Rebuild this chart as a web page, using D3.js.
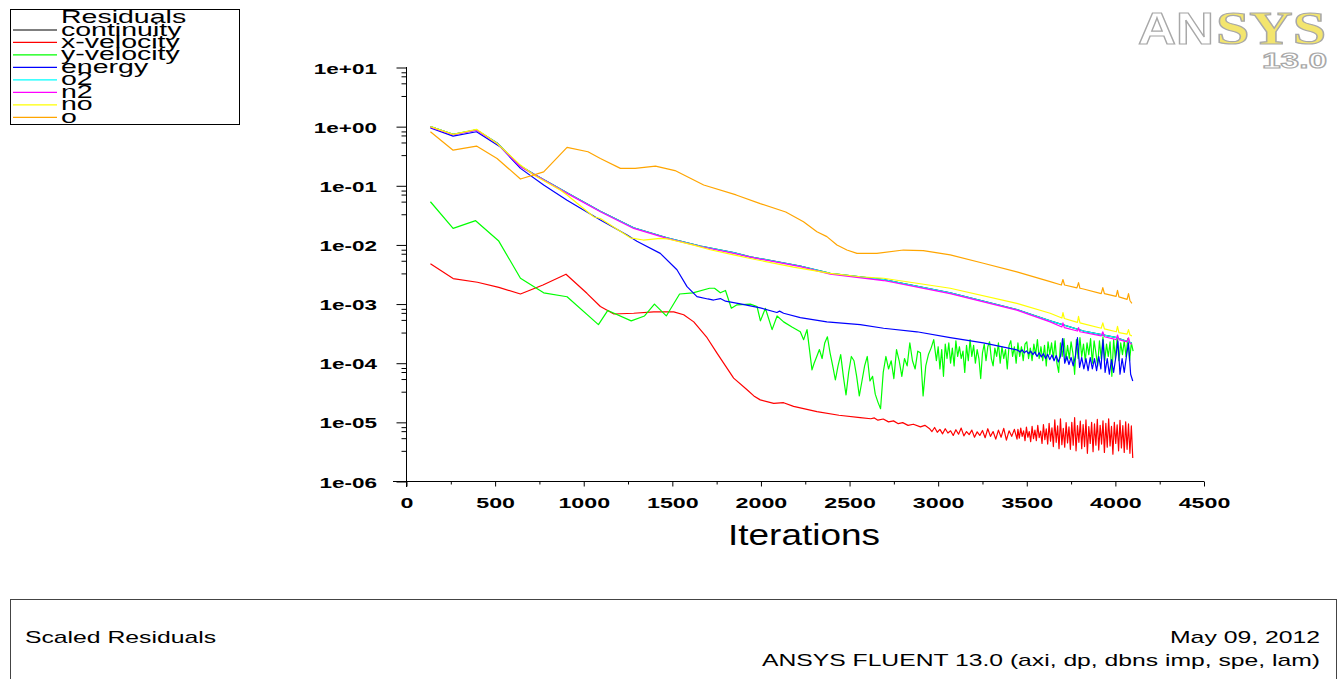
<!DOCTYPE html>
<html><head><meta charset="utf-8">
<script src="https://cdn.jsdelivr.net/npm/d3@7"></script>
<style>body{margin:0;background:#fff;} svg{display:block;}</style>
</head><body>
<svg id="chart" width="1338" height="679"></svg>
<script>
// ---------------- DATA ----------------
const seriesNames  = ["continuity","x-velocity","y-velocity","energy","o2","n2","no","o"];
const seriesColors = ["#000000","#ff0000","#00ff00","#0000ff","#00ffff","#ff00ff","#ffff00","#ffa500"];
const xTickValues  = [0,500,1000,1500,2000,2500,3000,3500,4000,4500];
const xTickLabels  = ["0","500","1000","1500","2000","2500","3000","3500","4000","4500"];
const yTickValues  = [1e1,1e0,1e-1,1e-2,1e-3,1e-4,1e-5,1e-6];
const yTickLabels  = ["1e+01","1e+00","1e-01","1e-02","1e-03","1e-04","1e-05","1e-06"];
const legendTitle  = "Residuals";
const xAxisTitle   = "Iterations";
const footerLeft   = "Scaled Residuals";
const footerDate   = "May 09, 2012";
const footerInfo   = "ANSYS FLUENT 13.0 (axi, dp, dbns imp, spe, lam)";

// [iteration, residual]
const continuityRes = [[135,1.0],[263,0.74],[395,0.88],[511,0.53],[643,0.215],[718,0.158],[906,0.076],[1094,0.037],[1282,0.0195],[1470,0.0132],[1658,0.0096],[1846,0.0074],[1940,0.0063],[2222,0.0044],[2391,0.0033],[2692,0.0026],[3068,0.00155],[3444,0.00081],[3632,0.00052],[3820,0.00035],[4008,0.00027],[4093,0.00022]];
const o2Res = [[135,1.0],[263,0.74],[395,0.88],[511,0.53],[643,0.215],[718,0.158],[906,0.076],[1094,0.037],[1282,0.0195],[1470,0.0132],[1658,0.0096],[1846,0.0074],[1940,0.0063],[2222,0.0044],[2391,0.0033],[2692,0.0026],[3068,0.00155],[3444,0.00081],[3632,0.00052],[3820,0.00035],[4008,0.00027],[4093,0.00022]];
const n2Res = [[135,0.98],[263,0.73],[395,0.87],[511,0.52],[643,0.21],[718,0.156],[906,0.0744],[1094,0.0363],[1282,0.019],[1470,0.0129],[1658,0.0094],[1846,0.0072],[1940,0.0062],[2222,0.0043],[2391,0.0032],[2692,0.0025],[3068,0.0015],[3444,0.00079],[3632,0.0005],[3698,0.00041],[3704,0.00048],[3712,0.0004],[3786,0.00035],[3792,0.0004],[3800,0.00034],[3920,0.00029],[3929,0.00034],[3938,0.00028],[4005,0.00025],[4012,0.0003],[4020,0.00025],[4066,0.00023],[4074,0.00027],[4082,0.00022],[4093,0.00021]];
const noRes = [[135,1.0],[263,0.74],[395,0.9],[511,0.52],[643,0.224],[718,0.152],[868,0.085],[906,0.0697],[1056,0.030],[1094,0.028],[1263,0.0132],[1336,0.0121],[1432,0.0129],[1470,0.0127],[1620,0.0099],[1714,0.0083],[1846,0.0068],[1940,0.0059],[2184,0.0042],[2391,0.0033],[2560,0.0029],[2692,0.00273],[3068,0.00185],[3444,0.00103],[3632,0.0007],[3698,0.00058],[3704,0.00072],[3712,0.00057],[3786,0.00049],[3792,0.00062],[3800,0.00048],[3920,0.00039],[3929,0.00048],[3938,0.00038],[4005,0.00034],[4012,0.00042],[4020,0.00033],[4066,0.00031],[4074,0.00037],[4082,0.0003],[4093,0.00029]];
const oRes = [[135,0.82],[263,0.40],[395,0.47],[511,0.29],[643,0.13],[774,0.172],[906,0.445],[1024,0.376],[1094,0.29],[1207,0.197],[1290,0.197],[1405,0.215],[1515,0.181],[1677,0.103],[1860,0.07],[1996,0.050],[2140,0.036],[2240,0.0247],[2316,0.0167],[2372,0.0138],[2429,0.010],[2485,0.0082],[2542,0.0072],[2654,0.0072],[2804,0.0082],[2916,0.0080],[3068,0.0068],[3255,0.0049],[3444,0.0035],[3632,0.0024],[3695,0.0021],[3704,0.0026],[3713,0.0021],[3783,0.00188],[3792,0.0023],[3800,0.00185],[3820,0.0018],[3920,0.0015],[3929,0.0019],[3938,0.0015],[4004,0.00135],[4012,0.0017],[4020,0.00132],[4066,0.0012],[4074,0.0015],[4082,0.00115],[4093,0.00103]];
const energyRes = [[135,0.955],[263,0.69],[395,0.82],[530,0.455],[643,0.197],[774,0.103],[906,0.057],[1094,0.0264],[1245,0.0147],[1300,0.0115],[1432,0.0072],[1526,0.0038],[1583,0.00197],[1639,0.00134],[1700,0.00122],[1733,0.00117],[1771,0.00124],[1800,0.00112],[1884,0.00101],[1996,0.00086],[2090,0.00072],[2105,0.00076],[2128,0.0007],[2222,0.00059],[2372,0.0005],[2560,0.00045],[2692,0.00039],[2880,0.00034],[3068,0.00027],[3255,0.00022],[3444,0.000168]];
const energyTailStart = 3450, energyTailStep = 12;
const energyTail = [
 1.65e-4,1.55e-4,1.68e-4,1.5e-4,1.62e-4,1.45e-4,1.6e-4,1.4e-4,1.55e-4,1.3e-4,
 1.5e-4,1.28e-4,1.45e-4,1.2e-4,1.42e-4,1.15e-4,1.38e-4,1.1e-4,1.35e-4,1.05e-4,
 1.3e-4,2.6e-4,1.0e-4,1.3e-4,9.5e-5,1.25e-4,9e-5,1.3e-4,2.7e-4,8.5e-5,
 1.25e-4,8e-5,1.2e-4,7.5e-5,1.25e-4,8e-5,1.2e-4,7.5e-5,1.3e-4,8e-5,
 2.5e-4,7e-5,1.2e-4,6.5e-5,1.15e-4,7e-5,1.25e-4,2.4e-4,6.5e-5,1.2e-4,
 7e-5,1.3e-4,2.2e-4,6.5e-5,5e-5];
const yVelocityRes = [[135,0.0537],[263,0.019],[390,0.0257],[519,0.0118],[643,0.00274],[774,0.00155],[906,0.00133],[1083,0.00045],[1136,0.00078],[1268,0.00052],[1343,0.00063],[1399,0.001],[1466,0.00063],[1541,0.00148],[1616,0.00155],[1710,0.00185],[1738,0.00185],[1771,0.00155],[1800,0.0017],[1833,0.00085],[1865,0.00097],[1940,0.001],[1978,0.00091],[1997,0.00052],[2025,0.00085],[2063,0.00037],[2091,0.00063],[2128,0.0005],[2175,0.00041],[2222,0.00034],[2241,0.00025],[2260,0.00037],[2288,0.000077]];
const yVelocityTailStart = 2300, yVelocityTailStep = 15;
const yVelocityTail = [
 1.0e-4,1.3e-4,1.7e-4,1.2e-4,2.2e-4,2.8e-4,1.5e-4,9e-5,5.2e-5,9e-5,
 1.4e-4,6e-5,2.9e-5,7e-5,1.3e-4,1.1e-4,6e-5,2.8e-5,5e-5,9e-5,
 1.3e-4,5e-5,6e-5,3e-5,2.2e-5,1.7e-5,7e-5,1.3e-4,8e-5,1.1e-4,
 5.5e-5,1.7e-4,1.1e-4,6e-5,1.2e-4,9e-5,2.2e-4,1.1e-4,8e-5,1.6e-4,
 1.5e-4,2.8e-5,9e-5,1.4e-4,1.8e-4,2.5e-4];
const yVelocityDenseStart = 2990, yVelocityDenseStep = 10;
const yVelocityDense = [
 1.1e-4,1.9e-4,8e-5,1.7e-4,6e-5,2.1e-4,1.2e-4,2.2e-4,1.0e-4,1.8e-4,
 9e-5,2.4e-4,1.3e-4,1.9e-4,1.2e-4,1.6e-4,7e-5,2.0e-4,1.1e-4,2.5e-4,
 1.3e-4,2.0e-4,1.0e-4,1.7e-4,1.2e-4,5.5e-5,1.5e-4,2.1e-4,1.1e-4,1.9e-4,
 2.3e-4,1.2e-4,9e-5,1.8e-4,1.3e-4,2.2e-4,1.0e-4,1.9e-4,1.2e-4,1.7e-4,
 8e-5,2.0e-4,2.4e-4,1.3e-4,1.9e-4,1.0e-4,2.2e-4,1.3e-4,1.9e-4,1.1e-4,
 2.1e-4,2.3e-4,1.2e-4,1.8e-4,1.1e-4,2.1e-4,1.4e-4,2.5e-4,1.2e-4,1.9e-4,
 1.1e-4,2.0e-4,9e-5,2.3e-4,1.4e-4,2.2e-4,1.2e-4,2.4e-4,1.0e-4,7e-5,
 2.2e-4,1.3e-4,2.6e-4,1.1e-4,2.0e-4,1.2e-4,2.3e-4,1.5e-4,6.5e-5,2.5e-4,
 1.2e-4,2.7e-4,1.3e-4,2.1e-4,1.1e-4,2.2e-4,1.4e-4,2.6e-4,1.0e-4,2.4e-4,
 1.5e-4,9e-5,2.4e-4,1.2e-4,2.8e-4,1.1e-4,2.1e-4,1.3e-4,2.3e-4,6e-5,
 2.5e-4,1.2e-4,2.7e-4,1.1e-4,2.2e-4,1.4e-4,2.4e-4,1.3e-4,2.6e-4,1.1e-4,
 2.2e-4,1.6e-4];
const xVelocityRes = [[135,0.0048],[263,0.0027],[400,0.00234],[521,0.00192],[643,0.00148],[770,0.0021],[900,0.0032],[1018,0.00152],[1094,0.00091],[1170,0.00068],[1282,0.0007],[1395,0.00074],[1508,0.00074],[1564,0.00066],[1621,0.0005],[1696,0.00027],[1752,0.000148],[1846,0.000056],[1920,0.000036],[1960,0.000028],[1996,0.000024],[2072,0.000021],[2128,0.0000215],[2184,0.0000186],[2316,0.0000152],[2440,0.0000132],[2560,0.000012],[2620,0.0000115],[2640,0.0000119],[2660,0.0000109],[2690,0.0000114],[2720,0.0000102],[2748,0.0000106],[2775,0.0000095],[2800,0.0000099],[2830,0.0000089],[2860,0.0000093],[2900,0.0000084],[2925,0.0000089]];
const xVelocityTailStart = 2950, xVelocityTailStep = 15;
const xVelocityTail = [
 7.9e-6,7.0e-6,8.2e-6,6.8e-6,7.6e-6,6.4e-6,7.8e-6,6.6e-6,7.2e-6,6.0e-6,
 7.5e-6,6.3e-6,8.0e-6,5.9e-6,7.0e-6,6.2e-6,7.4e-6,5.6e-6,6.9e-6,6.0e-6,
 7.3e-6,5.5e-6,7.8e-6,5.8e-6,7.0e-6,5.2e-6,7.4e-6,5.6e-6,7.9e-6,5.0e-6,
 7.2e-6,5.8e-6,7.6e-6,5.2e-6];
const xVelocityDenseStart = 3450, xVelocityDenseStep = 8;
const xVelocityDense = [
 7.6e-6,5.4e-6,8.0e-6,5.8e-6,7.2e-6,4.9e-6,8.3e-6,5.6e-6,7.0e-6,4.7e-6,8.6e-6,5.3e-6,7.4e-6,4.9e-6,8.9e-6,5.5e-6,7.1e-6,4.4e-6,9.2e-6,
 5.1e-6,7.8e-6,4.3e-6,9.6e-6,4.8e-6,8.1e-6,3.9e-6,1.1e-5,4.6e-6,8.7e-6,3.6e-6,1.15e-5,4.2e-6,7.9e-6,3.8e-6,9.9e-6,4.5e-6,8.4e-6,3.5e-6,
 1.0e-5,4.1e-6,1.2e-5,3.3e-6,8.8e-6,4.6e-6,1.05e-5,3.6e-6,9.2e-6,3.9e-6,1.1e-5,3.0e-6,8.5e-6,4.4e-6,1.0e-5,3.2e-6,9.4e-6,4.1e-6,1.12e-5,
 3.4e-6,8.9e-6,4.3e-6,1.06e-5,3.1e-6,9.6e-6,3.8e-6,1.15e-5,4.0e-6,8.6e-6,2.9e-6,1.0e-5,4.4e-6,9.1e-6,3.3e-6,1.08e-5,3.7e-6,8.8e-6,3.1e-6,
 1.02e-5,3.5e-6,9.4e-6,3.0e-6,8.7e-6,2.5e-6];

// --------------- BUILD ----------------
function addRun(points, start, step, values) {
  values.forEach((v, i) => points.push([start + i * step, v]));
  return points;
}
const xVelocityAll = addRun(addRun(xVelocityRes.slice(), xVelocityTailStart, xVelocityTailStep, xVelocityTail), xVelocityDenseStart, xVelocityDenseStep, xVelocityDense);
const yVelocityAll = addRun(addRun(yVelocityRes.slice(), yVelocityTailStart, yVelocityTailStep, yVelocityTail), yVelocityDenseStart, yVelocityDenseStep, yVelocityDense);
const energyAll = addRun(energyRes.slice(), energyTailStart, energyTailStep, energyTail);
const seriesData = [continuityRes, xVelocityAll, yVelocityAll, energyAll, o2Res, n2Res, noRes, oRes];

const svg = d3.select("#chart");
const FONT = "'Liberation Sans', Arial, sans-serif";
const x = d3.scaleLinear().domain([0, 4500]).range([406.5, 1204]);
const y = d3.scaleLog().domain([1e-6, 1e1]).range([481.5, 67.5]);

// ---- y axis ----
const yMinor = [];
yTickValues.slice(0, -1).forEach(v => [0.83, 0.71, 0.54, 0.33].forEach(m => yMinor.push(v * m)));
const gyMinor = svg.append("g").attr("transform", "translate(406.5,0)")
  .call(d3.axisLeft(y).tickValues(yMinor).tickSize(5).tickFormat(""));
gyMinor.select(".domain").remove();
const gy = svg.append("g").attr("transform", "translate(406.5,0)")
  .call(d3.axisLeft(y).tickValues(yTickValues).tickSize(10).tickFormat((d, i) => yTickLabels[i]));
gy.select(".domain").remove();
gy.selectAll("text").attr("x", null).attr("dy", null)
  .attr("text-anchor", "end").attr("transform", "translate(-29.5,5.5) scale(1.5,1)")
  .style("font-family", FONT).style("font-weight", "bold").style("font-size", "15px").attr("fill", "#000");
svg.append("line").attr("x1", 406.5).attr("x2", 406.5).attr("y1", 67).attr("y2", 487).attr("stroke", "#000");

// ---- x axis ----
const xMinor = xTickValues.slice(0, -1).map(v => v + 250);
const gxMinor = svg.append("g").attr("transform", "translate(0,481.5)")
  .call(d3.axisBottom(x).tickValues(xMinor).tickSize(3).tickFormat(""));
gxMinor.select(".domain").remove();
const gx = svg.append("g").attr("transform", "translate(0,481.5)")
  .call(d3.axisBottom(x).tickValues(xTickValues).tickSize(5).tickFormat((d, i) => xTickLabels[i]));
gx.select(".domain").remove();
gx.selectAll("text").attr("y", null).attr("dy", null)
  .attr("text-anchor", "middle").attr("transform", "translate(0,26.5) scale(1.55,1)")
  .style("font-family", FONT).style("font-weight", "bold").style("font-size", "15px").attr("fill", "#000");
svg.append("line").attr("x1", 393).attr("x2", 1204).attr("y1", 481.5).attr("y2", 481.5).attr("stroke", "#000");

svg.append("text").attr("x", 728).attr("y", 545).attr("textLength", 152).attr("lengthAdjust", "spacingAndGlyphs")
  .style("font-family", FONT).style("font-size", "29px").text(xAxisTitle);

// ---- series ----
const line = d3.line().x(d => x(d[0])).y(d => y(d[1]));
seriesData.forEach((pts, i) => {
  svg.append("path").attr("d", line(pts)).attr("fill", "none")
    .attr("stroke", seriesColors[i]).attr("stroke-width", 1.2).attr("stroke-linejoin", "round");
});

// ---- legend ----
svg.append("rect").attr("x", 10.5).attr("y", 9.5).attr("width", 229).attr("height", 115)
  .attr("fill", "none").attr("stroke", "#000");
const lg = svg.append("g").style("font-family", FONT).style("font-size", "19px");
lg.append("text").attr("transform", "translate(61,23.3) scale(1.5,1)").text(legendTitle);
seriesNames.forEach((name, i) => {
  const ly = 30 + i * 12.47;
  lg.append("line").attr("x1", 13).attr("x2", 57).attr("y1", ly).attr("y2", ly)
    .attr("stroke", seriesColors[i]).attr("stroke-width", 1.2);
  lg.append("text").attr("transform", `translate(61,${ly + 5.5}) scale(1.5,1)`).text(name);
});

// ---- logo ----
svg.append("text").attr("x", 1138).attr("y", 44).attr("textLength", 76).attr("lengthAdjust", "spacingAndGlyphs")
  .style("font-family", FONT).style("font-weight", "bold").style("font-size", "44px")
  .attr("fill", "#fff").attr("stroke", "#a8a8a8").attr("stroke-width", 1.2).text("AN");
svg.append("text").attr("x", 1216).attr("y", 44).attr("textLength", 110).attr("lengthAdjust", "spacingAndGlyphs")
  .style("font-family", "'Liberation Serif', serif").style("font-weight", "bold").style("font-size", "46px")
  .attr("fill", "#f3e56e").attr("stroke", "#a8a8a8").attr("stroke-width", 1.2).text("SYS");
svg.append("text").attr("x", 1262).attr("y", 68).attr("textLength", 65).attr("lengthAdjust", "spacingAndGlyphs")
  .style("font-family", FONT).style("font-weight", "bold").style("font-size", "22px")
  .attr("fill", "#fff").attr("stroke", "#a8a8a8").attr("stroke-width", 1.1).text("13.0");

// ---- footer ----
svg.append("rect").attr("x", 10.5).attr("y", 599.5).attr("width", 1326).attr("height", 120)
  .attr("fill", "none").attr("stroke", "#444");
const ft = svg.append("g").style("font-family", FONT).style("font-size", "17px").attr("fill", "#000");
ft.append("text").attr("x", 25).attr("y", 643).attr("textLength", 191).attr("lengthAdjust", "spacingAndGlyphs").text(footerLeft);
ft.append("text").attr("x", 1170).attr("y", 643).attr("textLength", 150).attr("lengthAdjust", "spacingAndGlyphs").text(footerDate);
ft.append("text").attr("x", 762).attr("y", 666).attr("textLength", 558).attr("lengthAdjust", "spacingAndGlyphs").text(footerInfo);
</script>
</body></html>
